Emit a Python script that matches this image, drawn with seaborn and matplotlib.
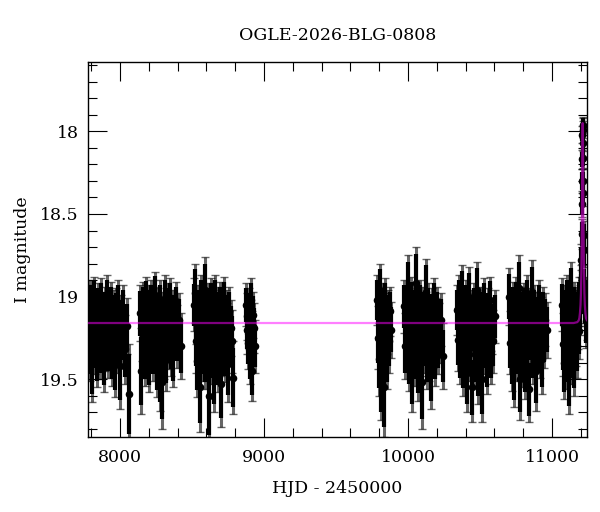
import numpy as np
import pandas as pd
import matplotlib
matplotlib.use("Agg")
import matplotlib.pyplot as plt
from matplotlib.ticker import MultipleLocator
import seaborn as sns

TITLE = "OGLE-2026-BLG-0808"
XLABEL = "HJD - 2450000"
YLABEL = "I magnitude"

# ---- season 1 ----
s1_t = [7780, 7784, 7789, 7793, 7797, 7802, 7806, 7811, 7815, 7820, 7826, 7831, 7835, 7841, 7846,
        7852, 7858, 7863, 7869, 7874, 7880, 7887, 7893, 7899, 7905, 7912, 7918, 7925, 7931, 7938,
        7944, 7951, 7957, 7964, 7971, 7978, 7985, 7992, 7999, 8007, 8015, 8024, 8034, 8046, 8060]
s1_m = [19.12, 19.25, 19.05, 19.31, 19.18, 19.08, 19.40, 19.15, 19.22, 19.02, 19.28, 19.11, 19.19, 19.34, 19.07,
        19.24, 19.14, 19.30, 19.03, 19.21, 19.16, 19.36, 19.09, 19.26, 19.13, 19.01, 19.29, 19.17, 19.23, 19.06,
        19.33, 19.12, 19.20, 19.38, 19.10, 19.27, 19.04, 19.19, 19.42, 19.15, 19.24, 19.08, 19.32, 19.18, 19.59]
s1_e = [0.16, 0.19, 0.15, 0.20, 0.17, 0.15, 0.24, 0.16, 0.18, 0.14, 0.19, 0.15, 0.17, 0.21, 0.15,
        0.18, 0.16, 0.20, 0.14, 0.18, 0.17, 0.22, 0.15, 0.19, 0.16, 0.14, 0.20, 0.17, 0.18, 0.15,
        0.21, 0.16, 0.18, 0.23, 0.15, 0.19, 0.14, 0.17, 0.26, 0.16, 0.18, 0.15, 0.21, 0.17, 0.30]

# ---- season 2 ----
s2_t = [8140, 8146, 8151, 8157, 8162, 8168, 8173, 8179, 8184, 8190, 8196, 8201, 8207, 8212, 8218,
        8224, 8229, 8235, 8241, 8246, 8252, 8258, 8263, 8269, 8275, 8281, 8287, 8293, 8299, 8305,
        8311, 8317, 8323, 8329, 8336, 8342, 8349, 8356, 8363, 8371, 8379, 8388, 8398, 8410, 8426]
s2_m = [19.10, 19.45, 19.21, 19.06, 19.29, 19.14, 19.33, 19.02, 19.24, 19.17, 19.08, 19.36, 19.12, 19.26, 19.04,
        19.20, 19.31, 19.09, 19.23, 18.99, 19.15, 19.38, 19.11, 19.27, 19.05, 19.44, 19.18, 19.52, 19.13, 19.30,
        19.01, 19.22, 19.35, 19.07, 19.25, 19.16, 19.03, 19.28, 19.12, 19.34, 19.19, 19.06, 19.24, 19.14, 19.30]
s2_e = [0.17, 0.26, 0.18, 0.15, 0.20, 0.16, 0.21, 0.14, 0.18, 0.17, 0.15, 0.22, 0.16, 0.19, 0.14,
        0.17, 0.20, 0.15, 0.18, 0.14, 0.16, 0.23, 0.16, 0.19, 0.15, 0.25, 0.17, 0.28, 0.16, 0.20,
        0.14, 0.18, 0.22, 0.15, 0.19, 0.17, 0.14, 0.20, 0.16, 0.21, 0.18, 0.15, 0.19, 0.16, 0.20]

# ---- season 3 ----
s3_t = [8515, 8520, 8526, 8531, 8537, 8542, 8548, 8553, 8559, 8564, 8570, 8575, 8581, 8587, 8592,
        8598, 8604, 8609, 8615, 8621, 8627, 8633, 8639, 8645, 8651, 8657, 8663, 8669, 8675, 8681,
        8687, 8693, 8699, 8705, 8711, 8718, 8724, 8731, 8738, 8745, 8752, 8760, 8768, 8777, 8788]
s3_m = [19.05, 18.98, 19.27, 19.13, 19.39, 19.08, 19.21, 19.55, 19.16, 19.02, 19.31, 19.11, 19.24, 18.96, 19.35,
        19.19, 19.07, 19.28, 19.60, 19.14, 19.23, 19.04, 19.33, 19.12, 19.46, 19.18, 19.01, 19.26, 19.10, 19.37,
        19.20, 19.06, 19.29, 19.53, 19.15, 19.25, 19.03, 19.32, 19.12, 19.22, 19.41, 19.09, 19.19, 19.27, 19.49]
s3_e = [0.16, 0.18, 0.19, 0.16, 0.22, 0.15, 0.18, 0.27, 0.17, 0.15, 0.20, 0.16, 0.18, 0.20, 0.21,
        0.17, 0.15, 0.19, 0.30, 0.16, 0.18, 0.15, 0.20, 0.16, 0.24, 0.17, 0.14, 0.19, 0.16, 0.21,
        0.18, 0.15, 0.19, 0.26, 0.16, 0.18, 0.15, 0.20, 0.16, 0.18, 0.23, 0.15, 0.17, 0.19, 0.22]

# ---- season 4 ----
s4_t = [8877, 8881, 8885, 8889, 8893, 8897, 8901, 8905, 8909, 8914, 8919, 8924, 8930, 8936]
s4_m = [19.05, 19.20, 19.12, 19.28, 19.08, 19.17, 19.36, 19.14, 19.02, 19.24, 19.45, 19.11, 19.19, 19.30]
s4_e = [0.13, 0.15, 0.14, 0.16, 0.13, 0.15, 0.17, 0.14, 0.13, 0.15, 0.18, 0.14, 0.15, 0.16]

# ---- season 5 ----
s5_t = [9787, 9792, 9797, 9801, 9806, 9811, 9815, 9820, 9825, 9830, 9835, 9840, 9846, 9852, 9858, 9865, 9872, 9880]
s5_m = [19.02, 19.25, 19.10, 19.38, 18.97, 19.18, 19.48, 19.07, 19.30, 19.14, 19.55, 19.04, 19.22, 19.35, 19.12, 19.27, 19.09, 19.20]
s5_e = [0.15, 0.19, 0.16, 0.22, 0.17, 0.18, 0.27, 0.15, 0.20, 0.16, 0.30, 0.15, 0.18, 0.21, 0.16, 0.19, 0.15, 0.17]

# ---- season 6 ----
s6_t = [9974, 9980, 9986, 9992, 9998, 10004, 10010, 10016, 10022, 10028, 10034, 10040, 10046, 10052,
        10058, 10064, 10070, 10076, 10082, 10088, 10094, 10100, 10106, 10112, 10118, 10124, 10130, 10136,
        10142, 10148, 10154, 10160, 10166, 10172, 10179, 10186, 10193, 10201, 10209, 10218, 10228, 10240]
s6_m = [19.06, 19.30, 19.14, 19.22, 18.95, 19.36, 19.10, 19.26, 19.03, 19.45, 19.17, 19.08, 19.33, 19.12,
        18.92, 19.24, 19.40, 19.15, 19.05, 19.29, 19.19, 19.52, 19.09, 19.27, 19.13, 18.97, 19.35, 19.21,
        19.07, 19.31, 19.16, 19.43, 19.11, 19.25, 19.04, 19.34, 19.18, 19.09, 19.28, 19.22, 19.14, 19.36]
s6_e = [0.16, 0.20, 0.16, 0.18, 0.20, 0.21, 0.15, 0.19, 0.15, 0.25, 0.17, 0.15, 0.21, 0.16,
        0.22, 0.18, 0.23, 0.16, 0.15, 0.19, 0.17, 0.28, 0.15, 0.19, 0.16, 0.20, 0.21, 0.18,
        0.15, 0.20, 0.17, 0.25, 0.16, 0.18, 0.15, 0.20, 0.17, 0.15, 0.19, 0.18, 0.16, 0.20]

# ---- season 7 ----
s7_t = [10342, 10348, 10354, 10360, 10366, 10372, 10378, 10384, 10390, 10396, 10402, 10408, 10414, 10420,
        10426, 10432, 10438, 10444, 10450, 10456, 10462, 10468, 10474, 10480, 10486, 10492, 10498, 10504,
        10510, 10516, 10522, 10528, 10534, 10540, 10547, 10554, 10561, 10568, 10576, 10584, 10593, 10602]
s7_m = [19.08, 19.26, 19.02, 19.33, 19.14, 19.21, 18.98, 19.38, 19.11, 19.27, 19.05, 19.46, 19.16, 19.23,
        19.00, 19.31, 19.12, 19.55, 19.19, 19.07, 19.35, 19.14, 19.25, 18.96, 19.42, 19.17, 19.09, 19.30,
        19.13, 19.50, 19.20, 19.04, 19.28, 19.15, 19.37, 19.10, 19.24, 19.02, 19.33, 19.18, 19.27, 19.12]
s7_e = [0.15, 0.19, 0.15, 0.20, 0.16, 0.18, 0.17, 0.22, 0.16, 0.19, 0.15, 0.24, 0.16, 0.18,
        0.18, 0.20, 0.16, 0.21, 0.17, 0.15, 0.21, 0.16, 0.18, 0.17, 0.23, 0.17, 0.15, 0.20,
        0.16, 0.26, 0.18, 0.15, 0.19, 0.16, 0.22, 0.15, 0.18, 0.14, 0.20, 0.17, 0.19, 0.16]

# ---- season 8 ----
s8_t = [10703, 10709, 10715, 10721, 10727, 10733, 10739, 10745, 10751, 10757, 10763, 10769, 10775, 10781,
        10787, 10793, 10799, 10805, 10811, 10817, 10823, 10829, 10835, 10841, 10847, 10853, 10859, 10865,
        10871, 10877, 10883, 10889, 10895, 10901, 10908, 10915, 10922, 10929, 10937, 10945, 10954, 10963]
s8_m = [19.00, 19.28, 19.12, 19.36, 19.06, 19.21, 19.44, 19.15, 19.03, 19.31, 19.18, 18.95, 19.25, 19.50,
        19.10, 19.34, 19.14, 19.07, 19.40, 19.20, 19.02, 19.29, 19.16, 19.56, 19.11, 19.24, 18.97, 19.33,
        19.19, 19.08, 19.27, 19.45, 19.13, 19.22, 19.05, 19.30, 19.17, 19.38, 19.09, 19.25, 19.14, 19.20]
s8_e = [0.17, 0.19, 0.16, 0.21, 0.15, 0.18, 0.23, 0.16, 0.15, 0.20, 0.17, 0.20, 0.18, 0.25,
        0.16, 0.21, 0.16, 0.15, 0.22, 0.17, 0.15, 0.19, 0.16, 0.20, 0.16, 0.18, 0.19, 0.20,
        0.17, 0.15, 0.18, 0.24, 0.16, 0.18, 0.15, 0.19, 0.17, 0.21, 0.15, 0.18, 0.16, 0.17]

# ---- season 9 (baseline part) ----
s9_t = [11070, 11075, 11080, 11085, 11090, 11095, 11100, 11105, 11110, 11115, 11120, 11125, 11130,
        11135, 11140, 11145, 11150, 11155, 11160, 11165, 11170, 11175, 11180, 11185, 11190]
s9_m = [19.05, 19.29, 19.13, 19.40, 19.08, 19.22, 19.35, 19.02, 19.17, 19.47, 19.11, 19.26, 18.97,
        19.33, 19.15, 19.20, 19.06, 19.38, 19.12, 19.24, 19.09, 19.30, 19.16, 19.03, 19.21]
s9_e = [0.16, 0.19, 0.16, 0.22, 0.15, 0.18, 0.21, 0.15, 0.17, 0.24, 0.16, 0.19, 0.18,
        0.20, 0.16, 0.17, 0.15, 0.22, 0.16, 0.18, 0.15, 0.19, 0.16, 0.15, 0.17]

# ---- event ----
ev_t = [11194, 11198, 11201, 11204, 11206, 11208, 11209, 11210, 11211, 11212, 11213, 11214,
        11215, 11216, 11217, 11218, 11220, 11222, 11225, 11228, 11232, 11236, 11240]
ev_m = [19.08, 18.97, 18.93, 18.78, 18.62, 18.44, 18.30, 18.17, 18.02, 17.99, 17.96, 17.97,
        18.07, 18.16, 18.30, 18.37, 18.63, 18.72, 18.93, 19.04, 19.02, 19.15, 19.10]
ev_e = [0.15, 0.13, 0.12, 0.10, 0.09, 0.08, 0.07, 0.06, 0.05, 0.05, 0.05, 0.05,
        0.05, 0.06, 0.07, 0.08, 0.09, 0.10, 0.12, 0.14, 0.14, 0.16, 0.16]

# ---- model light curve ----
model_t = [7778, 11150, 11175, 11185, 11190, 11194, 11198, 11201, 11204, 11206, 11208, 11209, 11210, 11211,
           11212, 11213, 11214, 11215, 11216, 11217, 11218, 11220, 11222, 11225, 11228, 11232, 11236, 11243]
model_m = [19.16, 19.16, 19.155, 19.145, 19.13, 19.10, 19.05, 18.98, 18.85, 18.70, 18.48, 18.34, 18.20, 18.08,
           17.99, 17.95, 17.99, 18.08, 18.20, 18.34, 18.48, 18.70, 18.85, 18.98, 19.05, 19.10, 19.13, 19.145]

X_MIN, X_MAX = 7778, 11243
Y_TOP, Y_BOT = 17.58, 19.85

seasons = [(s1_t, s1_m, s1_e), (s2_t, s2_m, s2_e), (s3_t, s3_m, s3_e), (s4_t, s4_m, s4_e),
           (s5_t, s5_m, s5_e), (s6_t, s6_m, s6_e), (s7_t, s7_m, s7_e), (s8_t, s8_m, s8_e),
           (s9_t, s9_m, s9_e), (ev_t, ev_m, ev_e)]
frames = []
for t, m, e in seasons:
    frames.append(pd.DataFrame({"hjd": t, "mag": m, "err": e}))
df = pd.concat(frames, ignore_index=True)
model = pd.DataFrame({"hjd": model_t, "mag": model_m})

sns.set_theme(style="ticks")
plt.rcParams["font.family"] = ["DejaVu Serif"]
plt.rcParams["mathtext.fontset"] = "dejavuserif"
for key in ["text.color", "axes.labelcolor", "xtick.color", "ytick.color", "axes.edgecolor"]:
    plt.rcParams[key] = "black"

fig = plt.figure(figsize=(6.0, 5.12), dpi=100)
ax = fig.add_axes([88 / 600, 1 - 437 / 512, (587 - 88) / 600, (437 - 62) / 512])
ax.set_facecolor("white")

# wide, overlapping error bars so each season reads as a solid cloud
ax.errorbar(df["hjd"], df["mag"], yerr=df["err"], fmt="none", ecolor=(0, 0, 0, 0.6),
            elinewidth=2.2, capsize=2.6, capthick=1.0, zorder=2)
ax.errorbar(df["hjd"], df["mag"], yerr=df["err"] * 0.8, fmt="none", ecolor="black",
            elinewidth=3.0, capsize=0, zorder=2)
sns.scatterplot(data=df, x="hjd", y="mag", ax=ax, color="black", s=30, edgecolor="black",
                linewidth=0, zorder=3, legend=False)
sns.lineplot(data=model, x="hjd", y="mag", ax=ax, color=(1.0, 0.0, 1.0), alpha=0.5,
             linewidth=1.6, estimator=None, sort=False, zorder=4)

ax.set_xlim(X_MIN, X_MAX)
ax.set_ylim(Y_BOT, Y_TOP)
ax.xaxis.set_major_locator(MultipleLocator(1000))
ax.xaxis.set_minor_locator(MultipleLocator(200))
ax.yaxis.set_major_locator(MultipleLocator(0.5))
ax.yaxis.set_minor_locator(MultipleLocator(0.1))
ax.yaxis.set_major_formatter(plt.FuncFormatter(lambda v, p: f"{v:g}"))

ax.tick_params(which="both", direction="in", top=True, right=True, colors="black",
               labelsize=12.5, width=0.8)
ax.tick_params(which="major", length=13.5)
ax.tick_params(which="minor", length=6.5)
ax.tick_params(axis="x", which="major", pad=9)
ax.tick_params(axis="y", which="major", pad=6.5)
for sp in ax.spines.values():
    sp.set_visible(True)
    sp.set_color("black")
    sp.set_linewidth(1.0)

ax.set_xlabel(XLABEL, fontsize=12.5, labelpad=10)
ax.set_ylabel(YLABEL, fontsize=12.5, labelpad=7)
ax.set_title(TITLE, fontsize=12.5, pad=16)

fig.savefig("out.png", dpi=100, facecolor="white")
